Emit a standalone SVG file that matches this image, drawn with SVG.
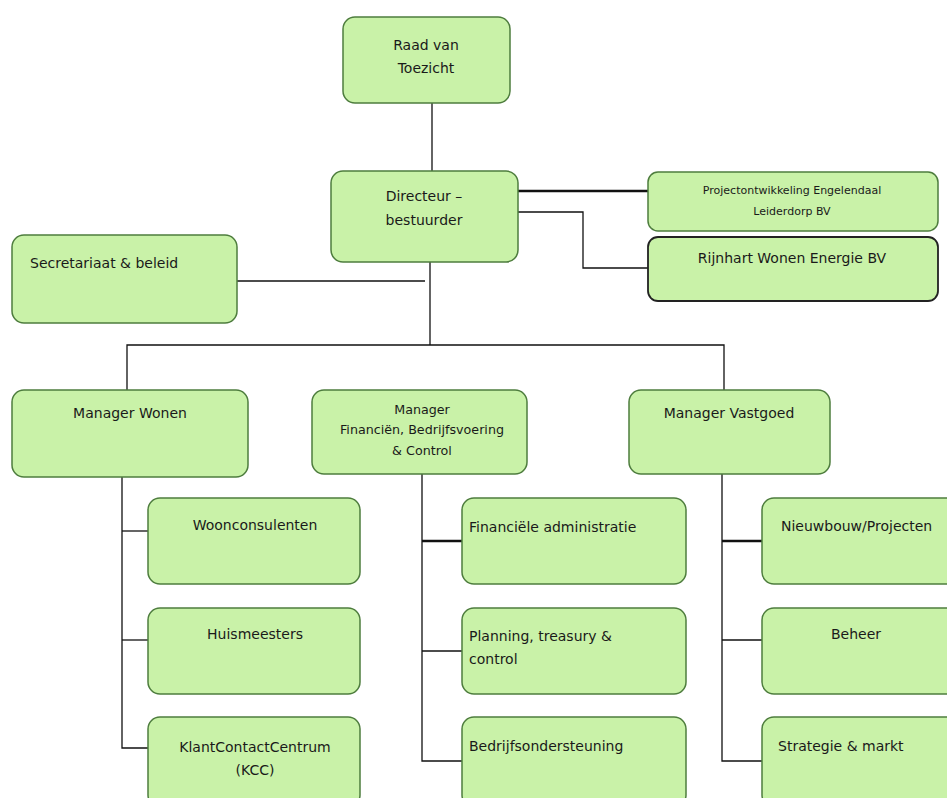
<svg xmlns="http://www.w3.org/2000/svg" width="947" height="798" viewBox="0 0 947 798">
<style>
.box{fill:#c9f2a8;stroke:#4e7d3e;stroke-width:1.5}
.dark{stroke:#222;stroke-width:1.8}
text{font-family:"DejaVu Sans","Verdana",sans-serif;font-size:14px;fill:#1a1a1a}
.c{text-anchor:middle}
.s{font-size:11px}
.m{font-size:12.7px}
.r{font-size:14px}
.ln{fill:none;stroke:#111;stroke-width:1.3}
.th{fill:none;stroke:#111;stroke-width:2.6}
</style>
<rect width="947" height="798" fill="#ffffff"/>
<g id="connectors">
<path class="ln" d="M432 103 V171"/>
<path class="th" d="M518 191 H648"/>
<path class="ln" d="M518 212 H583 V268 H648"/>
<path class="ln" d="M430 262 V345"/>
<path class="ln" d="M237 281 H425"/>
<path class="ln" d="M127 390 V345 H724 V390"/>
<path class="ln" d="M122 477 V748 H148"/>
<path class="ln" d="M122 531 H148"/>
<path class="ln" d="M122 640 H148"/>
<path class="ln" d="M422 474 V761 H462"/>
<path class="th" d="M422 541 H462"/>
<path class="ln" d="M422 651 H462"/>
<path class="ln" d="M722 474 V761 H762"/>
<path class="th" d="M722 541 H762"/>
<path class="ln" d="M722 640 H762"/>
</g>
<g id="raad"><rect class="box" x="343" y="17" width="167" height="86" rx="12"/><text class="c" x="426" y="50">Raad van</text><text class="c" x="426" y="73">Toezicht</text></g>
<g id="directeur"><rect class="box" x="331" y="171" width="187" height="91" rx="12"/><text class="c" x="424" y="201">Directeur –</text><text class="c" x="424" y="225">bestuurder</text></g>
<g id="projectontwikkeling"><rect class="box" x="648" y="172" width="290" height="59" rx="10"/><text class="c s" x="792" y="194">Projectontwikkeling Engelendaal</text><text class="c s" x="792" y="215">Leiderdorp BV</text></g>
<g id="rijnhart"><rect class="box dark" x="648" y="237" width="290" height="64" rx="10"/><text class="c r" x="792" y="263">Rijnhart Wonen Energie BV</text></g>
<g id="secretariaat"><rect class="box" x="12" y="235" width="225" height="88" rx="12"/><text x="30" y="268">Secretariaat &amp; beleid</text></g>
<g id="manager-wonen"><rect class="box" x="12" y="390" width="236" height="87" rx="12"/><text class="c" x="130" y="418">Manager Wonen</text></g>
<g id="manager-financien"><rect class="box" x="312" y="390" width="215" height="84" rx="12"/><text class="c m" x="422" y="414">Manager</text><text class="c m" x="422" y="434">Financiën, Bedrijfsvoering</text><text class="c m" x="422" y="455">&amp; Control</text></g>
<g id="manager-vastgoed"><rect class="box" x="629" y="390" width="201" height="84" rx="12"/><text class="c" x="729" y="418">Manager Vastgoed</text></g>
<g id="woonconsulenten"><rect class="box" x="148" y="498" width="212" height="86" rx="12"/><text class="c" x="255" y="530">Woonconsulenten</text></g>
<g id="huismeesters"><rect class="box" x="148" y="608" width="212" height="86" rx="12"/><text class="c" x="255" y="639">Huismeesters</text></g>
<g id="kcc"><rect class="box" x="148" y="717" width="212" height="90" rx="12"/><text class="c" x="255" y="752">KlantContactCentrum</text><text class="c" x="255" y="775">(KCC)</text></g>
<g id="financiele-administratie"><rect class="box" x="462" y="498" width="224" height="86" rx="12"/><text x="469" y="532">Financiële administratie</text></g>
<g id="planning"><rect class="box" x="462" y="608" width="224" height="86" rx="12"/><text x="469" y="641">Planning, treasury &amp;</text><text x="469" y="664">control</text></g>
<g id="bedrijfsondersteuning"><rect class="box" x="462" y="717" width="224" height="90" rx="12"/><text x="469" y="751">Bedrijfsondersteuning</text></g>
<g id="nieuwbouw"><rect class="box" x="762" y="498" width="200" height="86" rx="12"/><text x="781" y="531">Nieuwbouw/Projecten</text></g>
<g id="beheer"><rect class="box" x="762" y="608" width="200" height="86" rx="12"/><text class="c" x="856" y="639">Beheer</text></g>
<g id="strategie"><rect class="box" x="762" y="717" width="200" height="90" rx="12"/><text x="778" y="751">Strategie &amp; markt</text></g>
</svg>
